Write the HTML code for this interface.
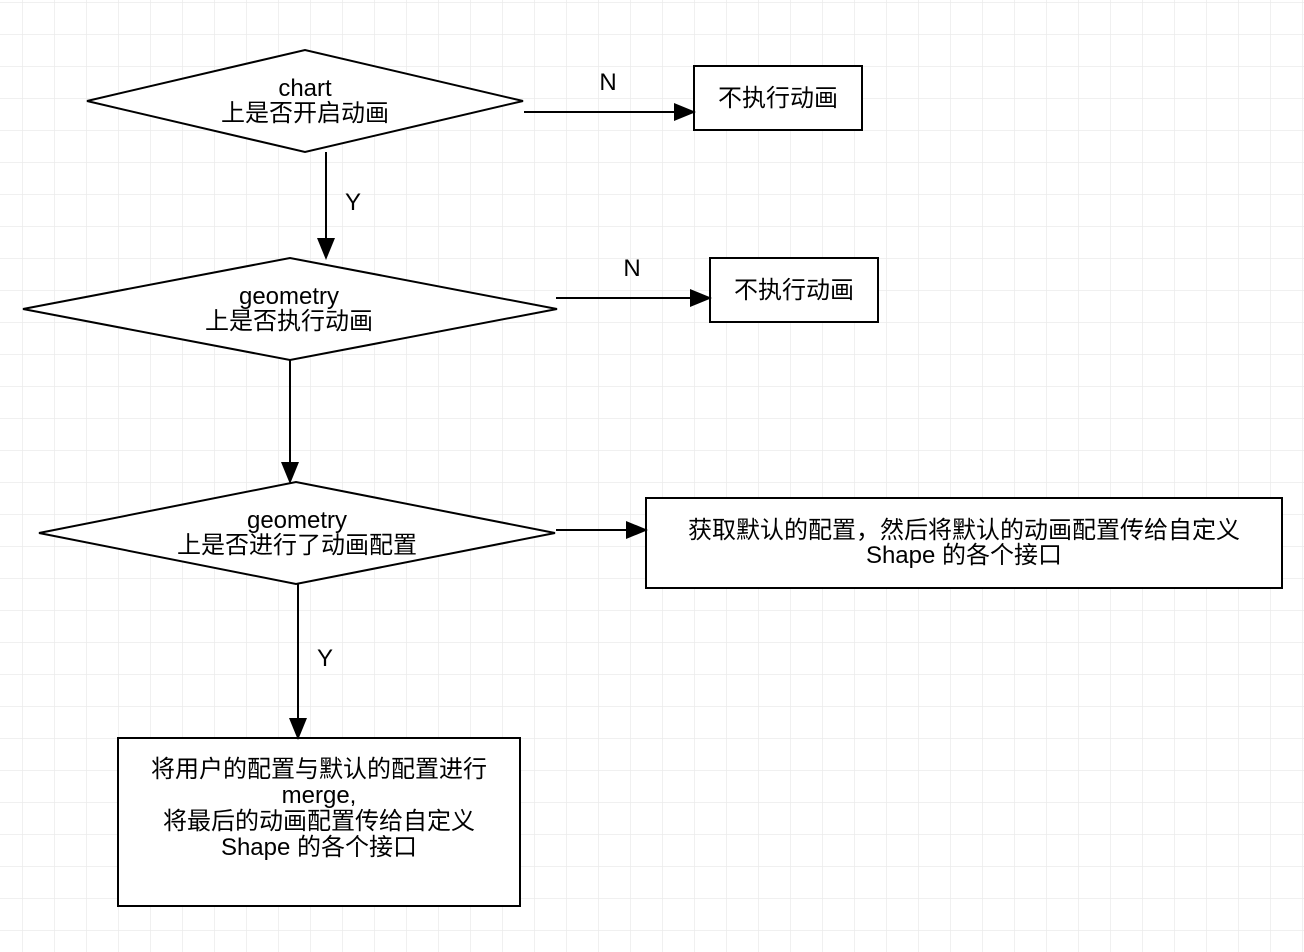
<!DOCTYPE html>
<html><head><meta charset="utf-8"><style>
html,body{margin:0;padding:0;background:#fff}
svg{display:block}
text{font-family:"Liberation Sans","Noto Sans CJK SC",sans-serif;font-size:24px;fill:#000}
</style></head><body>
<svg width="1304" height="952" viewBox="0 0 1304 952" xmlns="http://www.w3.org/2000/svg">
<defs>
<pattern id="g" x="22" y="2" width="32" height="32" patternUnits="userSpaceOnUse">
<path d="M0 0H32M0 0V32" stroke="#ebebeb" stroke-width="1.5" fill="none"/>
</pattern>
</defs>
<rect width="1304" height="952" fill="url(#g)"/>
<g stroke="#000" stroke-width="2" fill="#fff">
<polygon points="87,101 305,50 523,101 305,152"/>
<polygon points="23,309 290,258 557,309 290,360"/>
<polygon points="39,533 296,482 555,533 296,584"/>
<rect x="694" y="66" width="168" height="64"/>
<rect x="710" y="258" width="168" height="64"/>
<rect x="646" y="498" width="636" height="90"/>
<rect x="118" y="738" width="402" height="168"/>
</g>
<g stroke="#000" stroke-width="2" fill="none">
<path d="M524 112H676"/>
<path d="M326 152V240"/>
<path d="M556 298H692"/>
<path d="M290 360V464"/>
<path d="M556 530H628"/>
<path d="M298 584V720"/>
</g>
<g fill="#000">
<polygon points="674,103 696,112 674,121"/>
<polygon points="317,238 326,260 335,238"/>
<polygon points="690,289 712,298 690,307"/>
<polygon points="281,462 290,484 299,462"/>
<polygon points="626,521 648,530 626,539"/>
<polygon points="289,718 298,740 307,718"/>
</g>
<g text-anchor="middle">
<text x="305" y="96">chart</text>
<text x="305" y="121">上是否开启动画</text>
<text x="608" y="90">N</text>
<text x="778" y="106">不执行动画</text>
<text x="353" y="210">Y</text>
<text x="289" y="304">geometry</text>
<text x="289" y="329">上是否执行动画</text>
<text x="632" y="276">N</text>
<text x="794" y="298">不执行动画</text>
<text x="297" y="528">geometry</text>
<text x="297" y="553">上是否进行了动画配置</text>
<text x="964" y="538">获取默认的配置，然后将默认的动画配置传给自定义</text>
<text x="964" y="563">Shape 的各个接口</text>
<text x="325" y="666">Y</text>
<text x="319" y="777">将用户的配置与默认的配置进行</text>
<text x="319" y="803">merge,</text>
<text x="319" y="829">将最后的动画配置传给自定义</text>
<text x="319" y="855">Shape 的各个接口</text>
</g>
</svg>
</body></html>
